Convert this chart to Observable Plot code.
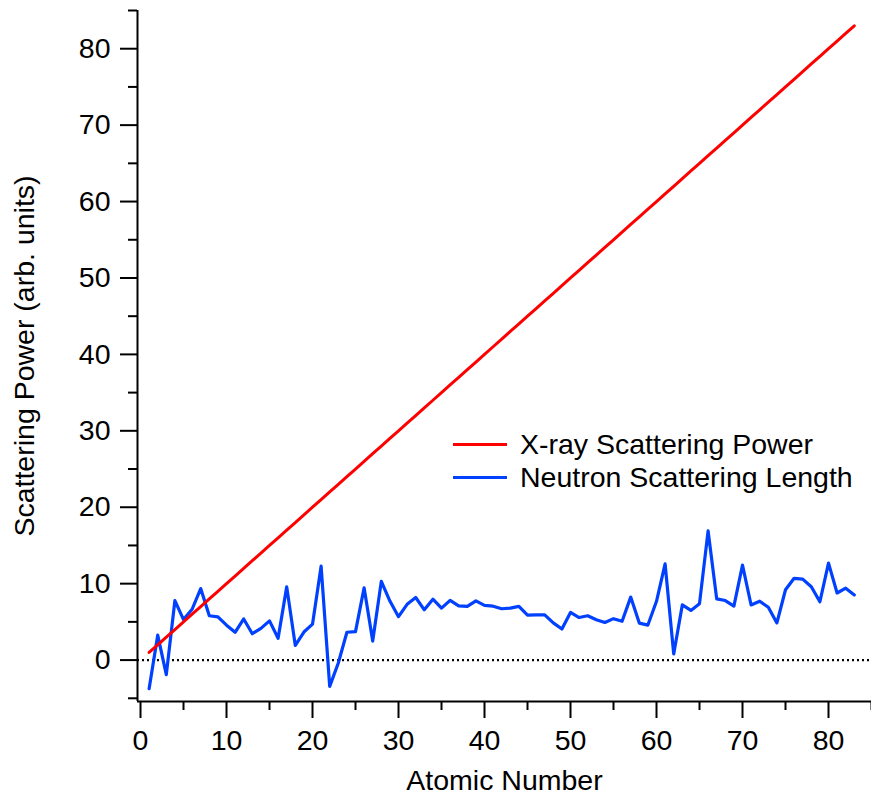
<!DOCTYPE html>
<html>
<head>
<meta charset="utf-8">
<script src="https://cdn.jsdelivr.net/npm/d3@7"></script>
<script src="https://cdn.jsdelivr.net/npm/@observablehq/plot@0.6"></script>
<style>
  html, body { margin: 0; padding: 0; background: #fff; }
  #wrap { position: relative; width: 871px; height: 796px; font-family: "Liberation Sans", Arial, sans-serif; }
  #legend { position: absolute; left: 453px; top: 428px; font-size: 28.5px; color: #000; }
  .row { display: flex; align-items: center; height: 33px; }
  .sw { width: 54px; height: 3px; margin-right: 13px; }
</style>
</head>
<body>
<div id="wrap">
  <div id="chart"></div>
  <div id="legend"></div>
</div>
<script>
const atomicNumber = [1,2,3,4,5,6,7,8,9,10,11,12,13,14,15,16,17,18,19,20,21,22,23,24,25,26,27,28,29,30,31,32,33,34,35,36,37,38,39,40,41,42,43,44,45,46,47,48,49,50,51,52,53,54,55,56,57,58,59,60,61,62,63,64,65,66,67,68,69,70,71,72,73,74,75,76,77,78,79,80,81,82,83];
const xrayPower = [1,2,3,4,5,6,7,8,9,10,11,12,13,14,15,16,17,18,19,20,21,22,23,24,25,26,27,28,29,30,31,32,33,34,35,36,37,38,39,40,41,42,43,44,45,46,47,48,49,50,51,52,53,54,55,56,57,58,59,60,61,62,63,64,65,66,67,68,69,70,71,72,73,74,75,76,77,78,79,80,81,82,83];
const neutronLength = [-3.74,3.26,-1.90,7.79,5.30,6.65,9.36,5.80,5.65,4.57,3.63,5.38,3.45,4.15,5.13,2.85,9.58,1.91,3.67,4.70,12.29,-3.44,-0.38,3.64,3.73,9.45,2.49,10.3,7.72,5.68,7.29,8.19,6.58,7.97,6.80,7.81,7.09,7.02,7.75,7.16,7.05,6.72,6.80,7.03,5.88,5.91,5.92,4.87,4.07,6.23,5.57,5.80,5.28,4.92,5.42,5.07,8.24,4.84,4.58,7.69,12.6,0.80,7.22,6.5,7.38,16.9,8.01,7.79,7.07,12.43,7.21,7.7,6.91,4.86,9.2,10.7,10.6,9.60,7.63,12.69,8.78,9.41,8.53];
const seriesNames = ["X-ray Scattering Power", "Neutron Scattering Length"];
const seriesColors = ["#ff0000", "#0040ff"];
const xMajorTicks = [0,10,20,30,40,50,60,70,80];
const xMinorTicks = [5,15,25,35,45,55,65,75,85];
const yMajorTicks = [0,10,20,30,40,50,60,70,80];
const yMinorTicks = [-5,5,15,25,35,45,55,65,75,85];
const xDomain = [-0.35, 85];
const yDomain = [-5.42, 85];
const xLabel = "Atomic Number";
const yLabel = "Scattering Power (arb. units)";

const xray = atomicNumber.map((z, i) => ({z, v: xrayPower[i]}));
const neutron = atomicNumber.map((z, i) => ({z, v: neutronLength[i]}));

const font = '"Liberation Sans", Arial, sans-serif';
const fs = 28.5;
const chart = Plot.plot({
  width: 871,
  height: 796,
  marginLeft: 137,
  marginRight: 0,
  marginTop: 10,
  marginBottom: 95,
  style: {fontFamily: font, fontSize: fs + "px", color: "#000", background: "#fff"},
  x: {domain: xDomain},
  y: {domain: yDomain},
  marks: [
    Plot.ruleY([0], {stroke: "#000", strokeWidth: 2.2, strokeDasharray: "2,3"}),
    Plot.line(neutron, {x: "z", y: "v", stroke: seriesColors[1], strokeWidth: 3.2}),
    Plot.line(xray, {x: "z", y: "v", stroke: seriesColors[0], strokeWidth: 3}),
    Plot.ruleX([xDomain[0]], {stroke: "#000", strokeWidth: 2}),
    Plot.ruleY([yDomain[0]], {stroke: "#000", strokeWidth: 2}),
    Plot.axisX({ticks: xMajorTicks, tickSize: 17, tickPadding: 11, strokeWidth: 2, fontSize: fs,
      label: xLabel, labelAnchor: "center", labelArrow: "none", labelOffset: 88}),
    Plot.axisX({ticks: xMinorTicks, tickSize: 9, strokeWidth: 2, text: null, label: null}),
    Plot.axisY({ticks: yMajorTicks, tickSize: 17, tickPadding: 10, strokeWidth: 2, fontSize: fs,
      label: yLabel, labelAnchor: "center", labelArrow: "none", labelOffset: 124}),
    Plot.axisY({ticks: yMinorTicks, tickSize: 9, strokeWidth: 2, text: null, label: null})
  ]
});
document.getElementById("chart").appendChild(chart);

const legend = document.getElementById("legend");
seriesNames.forEach((name, i) => {
  const row = document.createElement("div");
  row.className = "row";
  const sw = document.createElement("div");
  sw.className = "sw";
  sw.style.background = seriesColors[i];
  const t = document.createElement("span");
  t.textContent = name;
  row.appendChild(sw);
  row.appendChild(t);
  legend.appendChild(row);
});
</script>
</body>
</html>
